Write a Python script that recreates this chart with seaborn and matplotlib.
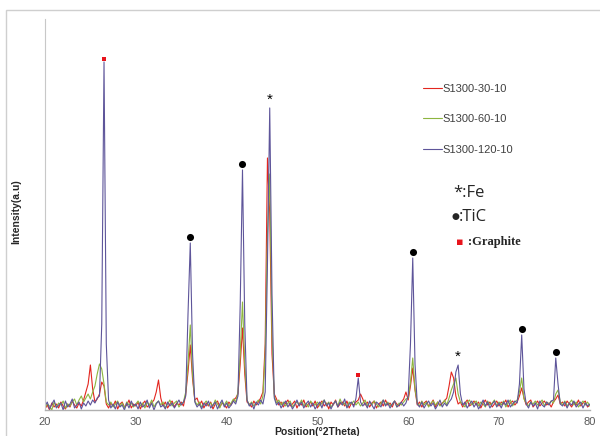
import numpy as np
import pandas as pd
import matplotlib
matplotlib.use("Agg")
import matplotlib.pyplot as plt
from matplotlib.patches import Rectangle
import seaborn as sns

sns.set_style("white")
plt.rcParams['font.family'] = ['Liberation Sans', 'DejaVu Sans']

# 2theta grid, 0.25 deg step from 20 to 80
two_theta = np.linspace(20, 80, 241)

s1300_30_10 = [
    5, 9, 4, 11, 7, 10, 6, 12, 8, 5, 10, 7, 13, 9, 6, 11, 8, 14, 22, 30,
    49, 25, 12, 15, 20, 32, 28, 10, 6, 11, 8, 13, 5, 10, 12, 7, 9, 14, 6, 10,
    8, 12, 5, 10, 13, 7, 9, 11, 14, 22, 34, 16, 8, 12, 6, 10, 13, 7, 11, 9,
    12, 8, 20, 42, 69, 35, 14, 16, 9, 13, 6, 11, 8, 12, 5, 10, 13, 7, 11, 9,
    6, 12, 9, 14, 16, 20, 50, 86, 40, 12, 10, 7, 13, 9, 12, 16, 22, 70, 256, 200,
    60, 20, 15, 9, 12, 7, 11, 14, 8, 10, 13, 6, 11, 9, 14, 7, 10, 12, 8, 13,
    6, 10, 13, 8, 11, 5, 12, 9, 14, 7, 10, 12, 8, 13, 6, 11, 9, 12, 14, 20,
    15, 9, 12, 7, 11, 13, 6, 10, 12, 8, 14, 9, 11, 7, 13, 10, 8, 12, 15, 22,
    14, 28, 46, 24, 9, 12, 7, 11, 13, 8, 10, 14, 7, 12, 9, 11, 13, 16, 28, 42,
    36, 18, 10, 12, 7, 11, 14, 8, 10, 13, 9, 12, 6, 11, 14, 9, 12, 7, 10, 13,
    8, 12, 10, 14, 7, 11, 13, 9, 12, 18, 26, 16, 9, 12, 14, 7, 10, 13, 8, 11,
    13, 9, 11, 7, 12, 15, 19, 10, 12, 8, 13, 10, 7, 12, 9, 14, 8, 11, 13, 7, 9,
]

s1300_60_10 = [
    6, 10, 8, 4, 12, 7, 11, 9, 13, 6, 10, 8, 12, 15, 9, 14, 18, 12, 16, 20,
    15, 22, 28, 40, 50, 45, 30, 12, 9, 12, 7, 10, 13, 8, 11, 6, 12, 9, 11, 7,
    10, 13, 8, 11, 6, 12, 9, 14, 7, 11, 13, 9, 12, 6, 10, 14, 8, 11, 13, 7,
    10, 12, 22, 50, 89, 40, 13, 9, 12, 7, 10, 13, 9, 11, 8, 14, 10, 6, 12, 9,
    13, 8, 11, 15, 12, 22, 60, 112, 50, 14, 9, 12, 8, 11, 14, 10, 18, 60, 180, 240,
    80, 18, 11, 14, 9, 12, 8, 11, 13, 7, 10, 12, 9, 14, 8, 11, 7, 13, 10, 9,
    12, 8, 11, 14, 9, 12, 7, 10, 13, 8, 15, 9, 11, 7, 12, 10, 13, 9, 12, 8,
    11, 14, 8, 12, 9, 13, 10, 7, 11, 14, 9, 12, 8, 10, 13, 7, 11, 9, 12, 15,
    16, 32, 56, 25, 11, 8, 13, 9, 12, 7, 11, 13, 9, 12, 8, 10, 14, 9, 16, 24,
    30, 36, 20, 12, 10, 7, 12, 14, 9, 11, 13, 8, 12, 10, 7, 13, 9, 11, 14, 8,
    12, 9, 13, 7, 11, 14, 8, 12, 14, 22, 36, 15, 11, 8, 12, 10, 13, 9, 11, 14,
    8, 12, 10, 13, 11, 20, 24, 12, 9, 13, 8, 11, 14, 9, 12, 7, 10, 13, 9, 12, 8,
]

s1300_120_10 = [
    8, 12, 5, 10, 14, 6, 9, 11, 4, 13, 7, 10, 15, 6, 9, 12, 5, 11, 8, 13,
    9, 14, 11, 16, 18, 90, 352, 70, 14, 6, 10, 5, 12, 7, 9, 4, 11, 6, 13, 8,
    10, 5, 12, 7, 9, 14, 6, 11, 4, 10, 13, 7, 9, 5, 12, 8, 11, 6, 10, 14,
    9, 12, 18, 100, 171, 60, 12, 7, 10, 5, 11, 8, 13, 6, 9, 12, 5, 10, 14, 7,
    11, 6, 9, 13, 10, 18, 110, 244, 90, 14, 8, 11, 5, 12, 9, 14, 10, 22, 150, 306,
    120, 16, 9, 12, 6, 10, 13, 7, 11, 5, 9, 14, 8, 12, 6, 10, 13, 7, 11, 5,
    9, 12, 6, 14, 8, 11, 5, 10, 13, 7, 12, 9, 15, 6, 10, 12, 7, 16, 36, 12,
    8, 11, 6, 13, 9, 5, 12, 10, 7, 14, 8, 11, 6, 10, 13, 7, 9, 12, 8, 11,
    18, 70, 156, 50, 10, 7, 12, 6, 10, 13, 8, 11, 5, 9, 14, 7, 11, 8, 12, 15,
    22, 42, 49, 20, 9, 12, 6, 10, 13, 7, 11, 5, 9, 14, 8, 12, 6, 10, 13, 7,
    11, 6, 12, 9, 14, 7, 10, 13, 11, 30, 79, 25, 10, 6, 12, 8, 11, 5, 13, 9,
    7, 12, 9, 13, 14, 56, 30, 10, 8, 12, 6, 11, 9, 13, 7, 10, 12, 6, 11, 8, 10,
]

series_names = ["S1300-30-10", "S1300-60-10", "S1300-120-10"]
series_colors = ["#e3261f", "#8db53f", "#5e559a"]

# phase markers: peak positions (2theta)
graphite_peaks = [26.5, 54.5]
tic_peaks = [36.0, 41.75, 60.5, 72.5, 76.25]
fe_peaks = [44.75, 65.5]

df = pd.DataFrame({
    "two_theta": np.concatenate([two_theta] * 3),
    "intensity": np.concatenate([s1300_30_10, s1300_60_10, s1300_120_10]),
    "series": np.repeat(series_names, len(two_theta)),
})

fig = plt.figure(figsize=(6.0, 4.36), dpi=100)
ax = fig.add_axes([0.075, 0.0596, 0.908, 0.897])

sns.lineplot(data=df, x="two_theta", y="intensity", hue="series",
             hue_order=series_names, palette=series_colors,
             estimator=None, sort=False, linewidth=0.8, ax=ax, legend=False)

ax.set_xlim(20, 80)
ax.set_ylim(4, 395)
ax.set_xticks([20, 30, 40, 50, 60, 70, 80])
ax.set_yticks([])
ax.tick_params(axis="x", length=0, pad=5, labelsize=8, labelcolor="#595959")
for s in ["top", "right"]:
    ax.spines[s].set_visible(False)
ax.spines["bottom"].set_color("#b0b0b0")
ax.spines["left"].set_color("#c8c8c8")
ax.spines["bottom"].set_linewidth(1.0)
ax.spines["left"].set_linewidth(0.8)
ax.set_xlabel("Position(°2Theta)", fontsize=7.5, fontweight="bold", labelpad=0)
ax.set_ylabel("")
fig.text(16 / 600, 1 - 212 / 436, "Intensity(a.u)", rotation=90, fontsize=7.5,
         fontweight="bold", ha="center", va="center")

# series legend
handles = [plt.Line2D([], [], color=c, lw=0.8) for c in series_colors]
leg = ax.legend(handles, series_names, loc="upper left",
                bbox_to_anchor=(0.675, 0.86), frameon=False, fontsize=8,
                handlelength=1.7, handletextpad=0.1, labelspacing=1.85)
for t in leg.get_texts():
    t.set_color("#404040")

# peak markers above the 120-10 pattern
blue = np.array(s1300_120_10)
def peak_top(pos):
    idx = np.argmin(np.abs(two_theta - pos))
    return blue[max(idx - 1, 0):idx + 2].max()

for p in tic_peaks:
    ax.scatter([p], [peak_top(p) + 6], s=26, color="black", zorder=5, linewidths=0)
for p in fe_peaks:
    ax.text(p, peak_top(p) + 1, "*", ha="center", va="bottom", fontsize=11,
            color="black", zorder=5)
for p in graphite_peaks:
    ax.scatter([p], [peak_top(p) + 3], s=12, marker="s", color="#e8141c",
               zorder=5, linewidths=0)

# phase key
fig.text(453 / 600, 1 - 193 / 436, "*:Fe", fontsize=12, va="center", ha="left",
         family=["Open Sans", "DejaVu Sans"])
fig.text(455.5 / 600, 1 - 216 / 436, "●", fontsize=6.5, va="center", ha="center",
         family=["DejaVu Sans"])
fig.text(459 / 600, 1 - 217 / 436, ":TiC", fontsize=12, va="center", ha="left",
         family=["Open Sans", "DejaVu Sans"])
fig.text(460 / 600, 1 - 242 / 436, "▪", fontsize=8, va="center", ha="center",
         color="#e8141c", family=["DejaVu Sans"])
fig.text(468 / 600, 1 - 242 / 436, ":Graphite", fontsize=9, va="center", ha="left",
         fontweight="bold", family=["Liberation Serif", "DejaVu Serif"])

# outer chart border
fig.add_artist(Rectangle((6 / 600, -0.2), 1.2, (1 - 10 / 436) + 0.2,
                         transform=fig.transFigure, fill=False,
                         edgecolor="#cfcfcf", linewidth=1.0))

fig.savefig("out.png", dpi=100)
